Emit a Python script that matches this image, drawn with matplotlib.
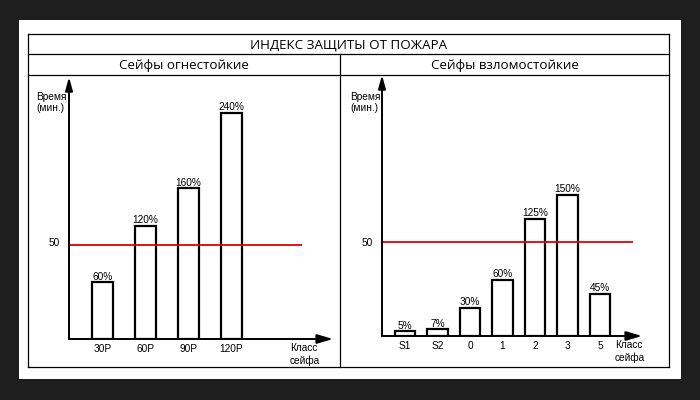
import matplotlib
matplotlib.use("Agg")
import matplotlib.pyplot as plt
from matplotlib.patches import Rectangle
from matplotlib.lines import Line2D

# --- datos ---
TITULO = "ИНДЕКС ЗАЩИТЫ ОТ ПОЖАРА"
SUB_IZQ = "Сейфы огнестойкие"
SUB_DER = "Сейфы взломостойкие"

clases_fuego = ["30P", "60P", "90P", "120P"]
pct_fuego = [60, 120, 160, 240]

clases_robo = ["S1", "S2", "0", "1", "2", "3", "5"]
pct_robo = [5, 7, 30, 60, 125, 150, 45]

UMBRAL = 100          # 50 min = 100 %
UMBRAL_TXT = "50"
Y_MAX = 278

W, H = 700, 400
FONDO = "#1e1e1e"
ROJO = "#e30000"
FT = "Open Sans"
FC = "Liberation Sans"
FS = 7.3


def fx(x):
    return x / W


def fy(y):
    return 1 - y / H


fig = plt.figure(figsize=(7, 4), dpi=100, facecolor=FONDO)

# panel blanco
fig.patches.append(Rectangle((fx(19), fy(379)), fx(681) - fx(19), fy(20) - fy(379),
                             transform=fig.transFigure, facecolor="white",
                             edgecolor="none", zorder=-5))


def linea(x0, y0, x1, y1):
    fig.lines.append(Line2D([fx(x0), fx(x1)], [fy(y0), fy(y1)],
                            transform=fig.transFigure, color="black", lw=0.9))


# marco
linea(28, 34, 669, 34)
linea(28, 367, 669, 367)
linea(28, 34, 28, 367)
linea(669, 34, 669, 367)
linea(28, 54, 669, 54)
linea(28, 75, 669, 75)
linea(340, 54, 340, 367)

fig.text(fx(349), fy(45), TITULO, family=FT, fontsize=9.6, ha="center", va="center")
fig.text(fx(184), fy(65), SUB_IZQ, family=FT, fontsize=9.6, ha="center", va="center")
fig.text(fx(505), fy(65), SUB_DER, family=FT, fontsize=9.6, ha="center", va="center")


def panel(x_eje, y_eje, x_tip, y_tip, x0, paso, ancho, x_rojo, clases, valores,
          x_tit, x50, x_clase):
    ax = fig.add_axes([fx(x_eje), fy(y_eje), fx(x_tip) - fx(x_eje), fy(y_tip) - fy(y_eje)])
    ax.set_facecolor("none")
    off = (x0 - x_eje) / paso
    ancho_u = (x_tip - x_eje) / paso
    ax.set_xlim(-off, ancho_u - off)
    ax.set_ylim(0, Y_MAX)
    for s in ax.spines.values():
        s.set_visible(False)
    pos = list(range(len(clases)))
    ax.bar(pos, valores, width=ancho / paso, facecolor="white", edgecolor="black",
           linewidth=1.6, zorder=2)
    for p, v in zip(pos, valores):
        ax.annotate(f"{v}%", (p, v), xytext=(0, 0.5), textcoords="offset points",
                    ha="center", va="bottom", fontsize=FS, family=FC)
    ax.plot([-off, (x_rojo - x_eje) / paso - off], [UMBRAL, UMBRAL], color=ROJO,
            lw=1.3, zorder=3, solid_capstyle="butt")
    # ejes con flecha
    flecha_x = dict(arrowstyle="-|>,head_length=0.95,head_width=0.28",
                    color="black", lw=1.4, shrinkA=0, shrinkB=0)
    flecha_y = dict(arrowstyle="-|>,head_length=0.8,head_width=0.22",
                    color="black", lw=1.4, shrinkA=0, shrinkB=0)
    ax.annotate("", xy=(1, 0), xytext=(0, 0), xycoords="axes fraction", arrowprops=flecha_x)
    ax.annotate("", xy=(0, 1), xytext=(0, 0), xycoords="axes fraction", arrowprops=flecha_y)
    ax.set_xticks(pos, clases, family=FC, fontsize=FS)
    ax.tick_params(axis="x", length=0, pad=3.5)
    ax.set_yticks([])
    fig.text(fx(x50), fy(243), UMBRAL_TXT, ha="right", va="center", fontsize=FS, family=FC)
    fig.text(fx(x_tit), fy(97), "Время", ha="left", va="center", fontsize=FS, family=FC)
    fig.text(fx(x_tit), fy(108), "(мин.)", ha="left", va="center", fontsize=FS, family=FC)
    fig.text(fx(x_clase), fy(y_eje + 9), "Класс", ha="left", va="center", fontsize=FS, family=FC)
    fig.text(fx(x_clase), fy(y_eje + 22), "сейфа", ha="left", va="center", fontsize=FS, family=FC)
    return ax


panel(69, 339, 333, 77, 102.5, 43, 21, 302, clases_fuego, pct_fuego, 36, 60, 290)
panel(382, 336, 642, 75, 405, 32.5, 20.5, 633, clases_robo, pct_robo, 350, 373, 615)

fig.savefig("out.png", dpi=100, facecolor=FONDO)
